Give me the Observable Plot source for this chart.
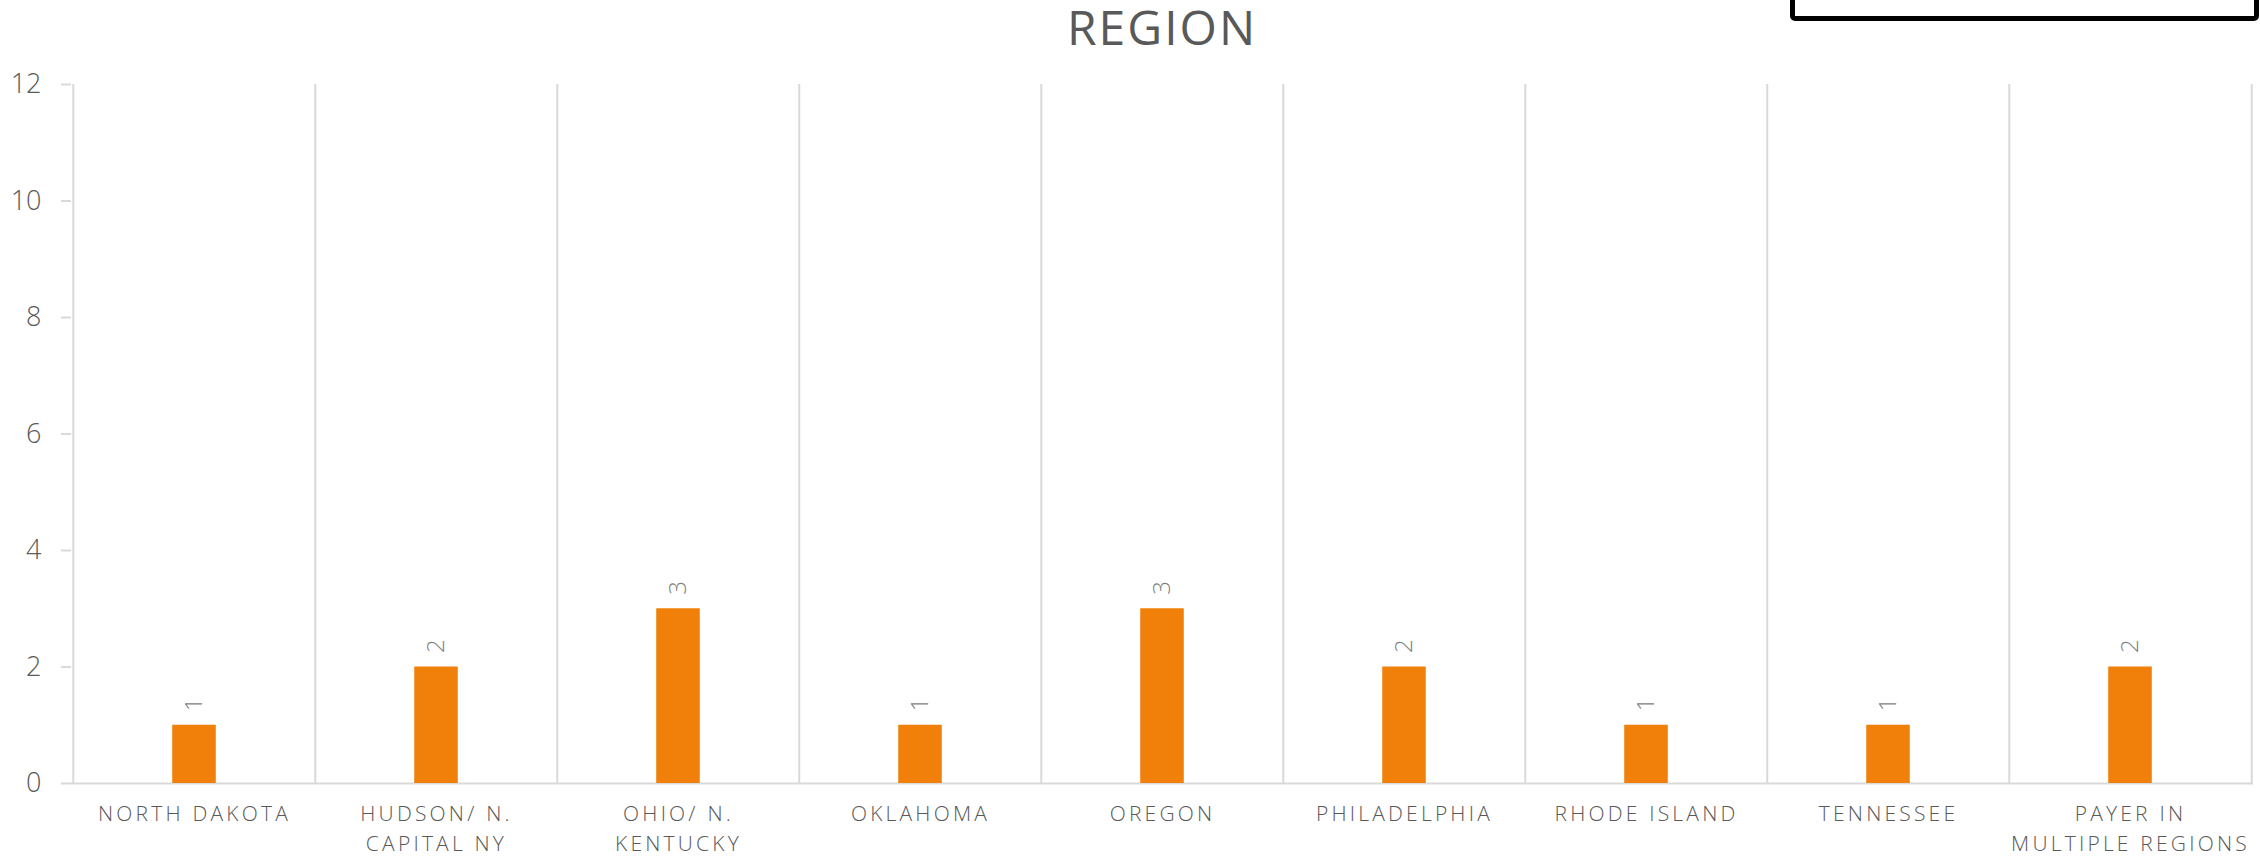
<!DOCTYPE html>
<html><head><meta charset="utf-8">
<script src="https://cdn.jsdelivr.net/npm/d3@7"></script>
<script src="https://cdn.jsdelivr.net/npm/@observablehq/plot@0.6"></script>
<style>
body{margin:0;background:#fff;width:2260px;height:861px;overflow:hidden;position:relative;font-family:"Open Sans",sans-serif}
#title{height:60px;font-size:48px;line-height:53px;color:#595959;text-align:center;padding-left:64px;letter-spacing:2px;white-space:nowrap}
#box{position:absolute;left:1790px;top:-40px;width:459px;height:51px;border:5px solid #000;border-radius:5px;background:#fff}
g[aria-label="x-axis tick label"] text{letter-spacing:3.2px}
svg text{font-weight:300}
</style>
</head><body>
<div id="box"></div>
<div id="title">REGION</div>
<div id="chart"></div>
<script>
const categories = ["NORTH DAKOTA","HUDSON/ N.\nCAPITAL NY","OHIO/ N.\nKENTUCKY","OKLAHOMA","OREGON","PHILADELPHIA","RHODE ISLAND","TENNESSEE","PAYER IN\nMULTIPLE REGIONS"];
const counts = [1,2,3,1,3,2,1,1,2];
const yTicks = [0,2,4,6,8,10,12];

const W = 2260, H = 801, mL = 71, mR = 7, mT = 24, mB = 78;
const bw = (W - mL - mR) / categories.length;
const barW = 44;
const data = categories.map((c, i) => ({c, v: counts[i]}));

const chart = Plot.plot({
  width: W, height: H,
  marginLeft: mL, marginRight: mR, marginTop: mT, marginBottom: mB,
  style: {fontFamily: "Open Sans", background: "#fff", overflow: "visible"},
  x: {domain: categories, padding: 0},
  y: {domain: [0, 12]},
  marks: [
    Plot.ruleX(categories, {x: d => d, dx: -bw / 2, y1: 0, y2: 12, stroke: "#d9d9d9", strokeWidth: 2}),
    Plot.ruleX([categories[categories.length - 1]], {x: d => d, dx: bw / 2, y1: 0, y2: 12, stroke: "#d9d9d9", strokeWidth: 2}),
    Plot.ruleY([0], {stroke: "#d9d9d9", strokeWidth: 2}),
    Plot.axisY({ticks: yTicks, tickSize: 10, tickPadding: 20, stroke: "#d9d9d9", strokeWidth: 2, color: "#595959", fontSize: 27, label: null}),
    Plot.axisX({tickSize: 0, tickPadding: 16, fontSize: 21, lineHeight: 1.43, color: "#595959", label: null}),
    Plot.barY(data, {x: "c", y: "v", fill: "#f0800a", insetLeft: (bw - barW) / 2, insetRight: (bw - barW) / 2}),
    Plot.text(data, {x: "c", y: "v", text: d => String(d.v), rotate: -90, textAnchor: "start", dy: -14, fill: "#7f7f7f", fontSize: 24})
  ]
});
document.getElementById("chart").append(chart);
</script>
</body></html>
